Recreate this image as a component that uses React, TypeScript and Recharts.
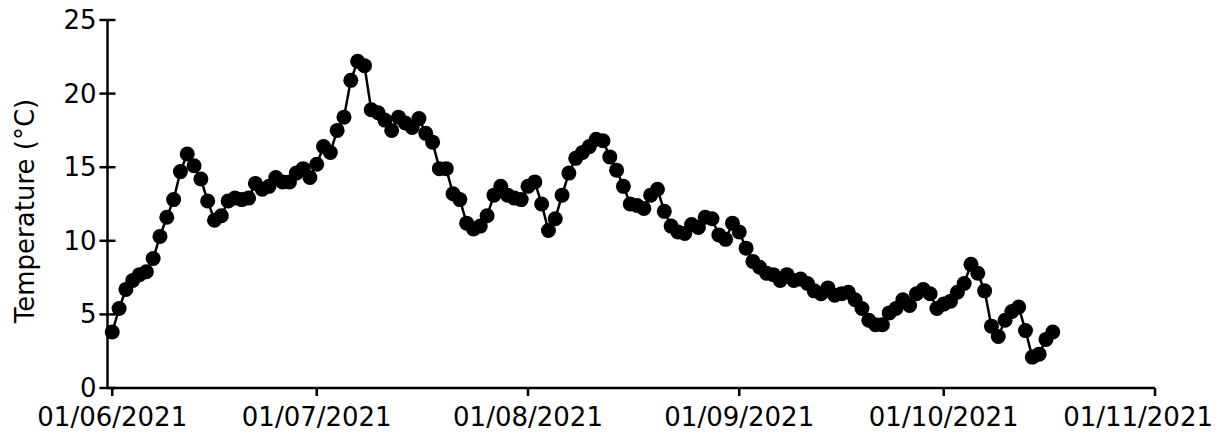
import React from "react";
import { LineChart, Line, XAxis, YAxis, Label } from "recharts";

// daily mean temperature, one value per day starting 01/06/2021
const temps = [
  3.8, 5.4, 6.7, 7.3, 7.7, 7.9, 8.8, 10.3, 11.6, 12.8,
  14.7, 15.9, 15.1, 14.2, 12.7, 11.4, 11.7, 12.7, 12.9, 12.8,
  12.9, 13.9, 13.5, 13.7, 14.3, 14.0, 14.0, 14.6, 14.9, 14.3,
  15.2, 16.4, 16.0, 17.5, 18.4, 20.9, 22.2, 21.9, 18.9, 18.7,
  18.2, 17.5, 18.4, 18.0, 17.7, 18.3, 17.3, 16.7, 14.9, 14.9,
  13.2, 12.8, 11.2, 10.8, 11.0, 11.7, 13.1, 13.7, 13.1, 12.9,
  12.8, 13.7, 14.0, 12.5, 10.7, 11.5, 13.1, 14.6, 15.6, 16.0,
  16.4, 16.9, 16.8, 15.7, 14.8, 13.7, 12.5, 12.4, 12.2, 13.1,
  13.5, 12.0, 11.0, 10.6, 10.5, 11.1, 10.9, 11.6, 11.5, 10.4,
  10.1, 11.2, 10.6, 9.5, 8.6, 8.2, 7.8, 7.7, 7.3, 7.7,
  7.3, 7.4, 7.1, 6.6, 6.4, 6.8, 6.3, 6.4, 6.5, 6.0,
  5.4, 4.6, 4.3, 4.3, 5.1, 5.4, 6.0, 5.6, 6.4, 6.7,
  6.4, 5.4, 5.7, 5.9, 6.5, 7.1, 8.4, 7.8, 6.6, 4.2,
  3.5, 4.6, 5.2, 5.5, 3.9, 2.1, 2.3, 3.3, 3.8,
];

// x ticks: day offset from 01/06/2021 and label
const xTickDays = [0, 30, 61, 92, 122, 153];
const xTickLabels = ["01/06/2021", "01/07/2021", "01/08/2021", "01/09/2021", "01/10/2021", "01/11/2021"];
const yTicks = [0, 5, 10, 15, 20, 25];

const data = temps.map((t, i) => ({ day: i, temp: t }));

const FONT = "'DejaVu Sans', sans-serif";
const FS = 26;

const YTick = (props: any) => {
  const { x, y, payload } = props;
  return (
    <g>
      <line x1={x} x2={x + 16} y1={y} y2={y} stroke="#000" strokeWidth={2.5} />
      <text x={x - 3} y={y} textAnchor="end" dominantBaseline="central" fontSize={FS} fontFamily={FONT} fill="#000">
        {payload.value}
      </text>
    </g>
  );
};

const XTick = (props: any) => {
  const { x, y, payload } = props;
  const idx = xTickDays.indexOf(payload.value);
  // keep the last label inside the chart area, like the original does
  const last = idx === xTickDays.length - 1;
  return (
    <text
      x={last ? Math.min(x + 75, 1213) : x}
      y={y}
      dy={30}
      textAnchor={last ? "end" : "middle"}
      fontSize={FS}
      fontFamily={FONT}
      fill="#000"
    >
      {xTickLabels[idx]}
    </text>
  );
};

const YLabel = () => (
  <text
    x={25}
    y={211}
    transform="rotate(-90 25 211)"
    textAnchor="middle"
    dominantBaseline="central"
    fontSize={FS}
    fontFamily={FONT}
    fill="#000"
  >
    Temperature (°C)
  </text>
);

const App = () => {
  return (
    <div style={{ position: "absolute", left: 0, top: 0, background: "#fff" }}>
      <LineChart width={1219} height={444} data={data} margin={{ top: 20, right: 64, bottom: 0, left: 0 }}>
        <XAxis
          dataKey="day"
          type="number"
          domain={[-0.7, 153]}
          ticks={xTickDays}
          interval={0}
          height={56}
          tickSize={8}
          tickMargin={0}
          axisLine={{ stroke: "#000", strokeWidth: 2.5 }}
          tickLine={{ stroke: "#000", strokeWidth: 2.5 }}
          tick={<XTick />}
        />
        <YAxis
          type="number"
          domain={[0, 25]}
          ticks={yTicks}
          width={107.5}
          tickSize={8}
          tickMargin={0}
          axisLine={{ stroke: "#000", strokeWidth: 2.5 }}
          tickLine={false}
          tick={<YTick />}
        >
          <Label content={<YLabel />} />
        </YAxis>
        <Line
          dataKey="temp"
          stroke="#000"
          strokeWidth={2.5}
          dot={{ r: 7.5, fill: "#000", stroke: "none" }}
          activeDot={false}
          isAnimationActive={false}
        />
      </LineChart>
    </div>
  );
};

export default App;
